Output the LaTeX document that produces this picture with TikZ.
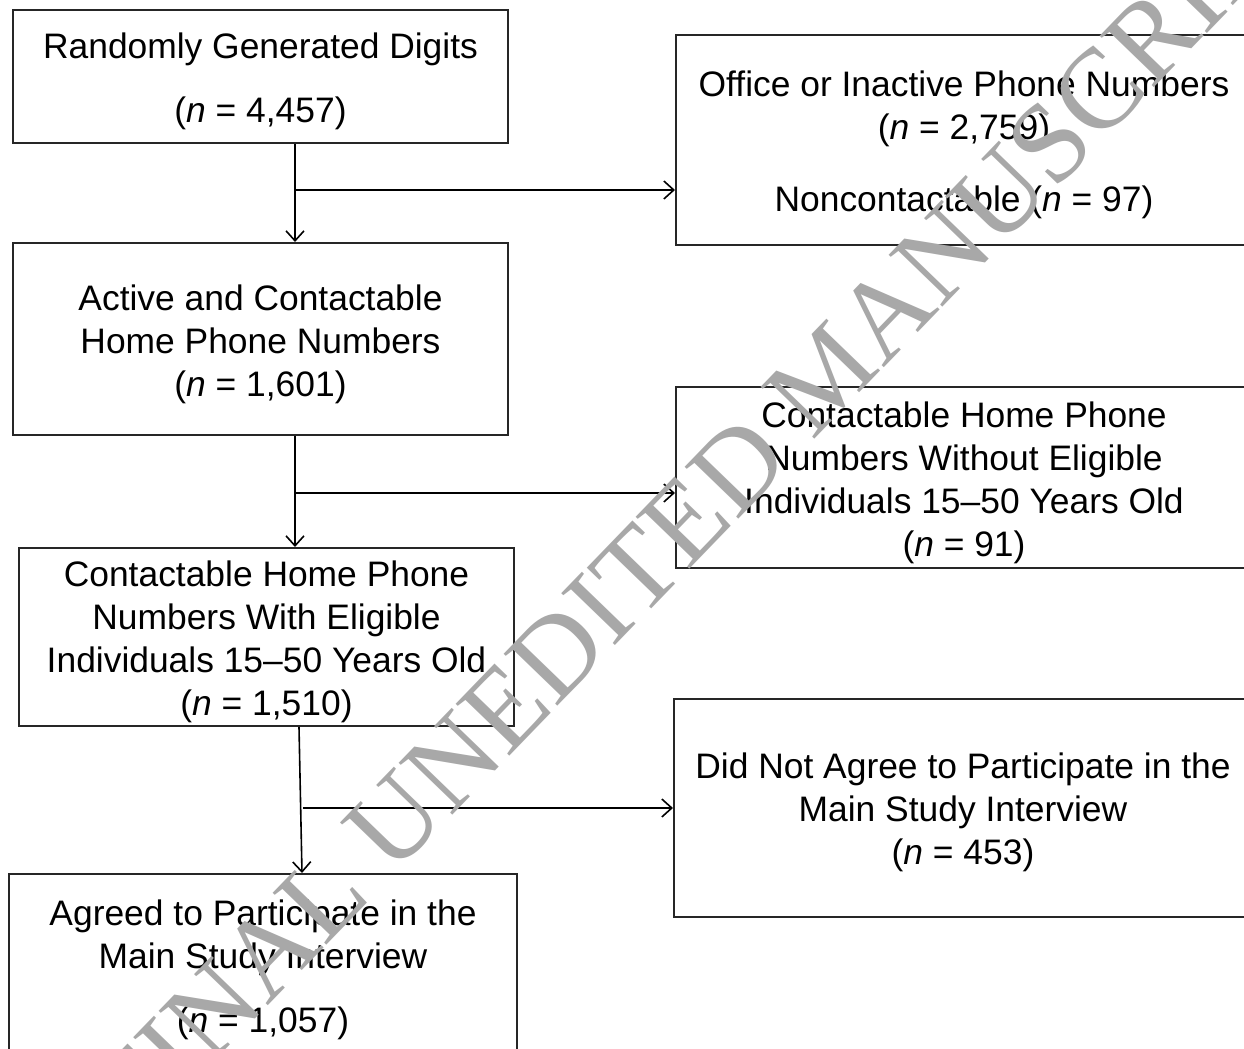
\documentclass[tikz,border=0pt]{standalone}
\usepackage{fontspec}
\setmainfont{Liberation Sans}
\newfontfamily\wmfont{Liberation Serif}
\usetikzlibrary{arrows.meta}
\definecolor{wmgray}{HTML}{A8A8A8}
\tikzset{
  box/.style={draw=black!85, line width=1pt, rectangle, inner sep=0pt},
  boxtext/.style={inner sep=0pt, align=center, font=\fontsize{17.7}{21.5}\selectfont},
  conn/.style={draw=black, line width=0.8pt, -{Straight Barb[length=5pt,width=9pt,line width=0.8pt]}},
  stamp/.style={text=wmgray, inner sep=0pt, font=\wmfont\fontsize{57}{57}\selectfont}
}
\begin{document}
\begin{tikzpicture}[x=0.5pt,y=-0.5pt]
\useasboundingbox (0,0) rectangle (1244,1049);
\clip (0,0) rectangle (1244,1049);
\fill[white] (0,0) rectangle (1244,1049);

% left column boxes
\node (A) [box, minimum width=247.5pt, minimum height=66.5pt] at (260.5,76.5) {};
\node (C) [box, minimum width=247.5pt, minimum height=96pt] at (260.5,339) {};
\node (E) [box, minimum width=247.5pt, minimum height=89pt] at (266.5,637) {};
\node (G) [box, minimum width=254pt, minimum height=91.5pt] at (263,965.5) {};

% right column boxes
\node (B) [box, minimum width=288pt, minimum height=105pt] at (964,140) {};
\node (D) [box, minimum width=288pt, minimum height=90.5pt] at (964,477.5) {};
\node (F) [box, minimum width=289pt, minimum height=109pt] at (963,808) {};

% box texts
\node (At) [boxtext] at ([yshift=-2.5pt]A.center)
  {Randomly Generated Digits\\[10.5pt](\textit{n} = 4,457)};
\node (Ct) [boxtext] at ([yshift=-2.5pt]C.center)
  {Active and Contactable\\Home Phone Numbers\\(\textit{n} = 1,601)};
\node (Et) [boxtext] at ([yshift=-2.5pt]E.center)
  {Contactable Home Phone\\Numbers With Eligible\\Individuals 15–50 Years Old\\(\textit{n} = 1,510)};
\node (Gt) [boxtext] at ([yshift=-2pt]G.center)
  {Agreed to Participate in the\\Main Study Interview\\[10.5pt](\textit{n} = 1,057)};
\node (Bt) [boxtext] at ([yshift=-2.5pt]B.center)
  {Office or Inactive Phone Numbers\\(\textit{n} = 2,759)\\[14.5pt]Noncontactable (\textit{n} = 97)};
\node (Dt) [boxtext] at ([yshift=-2.5pt]D.center)
  {Contactable Home Phone\\Numbers Without Eligible\\Individuals 15–50 Years Old\\(\textit{n} = 91)};
\node (Ft) [boxtext] at ([yshift=-2pt]F.center)
  {Did Not Agree to Participate in the\\Main Study Interview\\(\textit{n} = 453)};

% connectors
\coordinate (s1) at (295,0);
\coordinate (b1) at (295,190);
\coordinate (b2) at (295,493);
\coordinate (s3a) at (299,0);
\coordinate (s3b) at (302,0);
\coordinate (b3) at (303,808);

\draw[conn] (A.south -| s1) -- (C.north -| s1);
\draw[conn] (b1) -- (B.west |- b1);
\draw[conn] (C.south -| s1) -- (E.north -| s1);
\draw[conn] (b2) -- (D.west |- b2);
\draw[conn] (E.south -| s3a) -- (G.north -| s3b);
\draw[conn] (b3) -- (F.west |- b3);

% diagonal stamp across the chart
\node (wm) [stamp, rotate=46] at (705,500) {FINAL UNEDITED MANUSCRIPT};
\end{tikzpicture}
\end{document}
